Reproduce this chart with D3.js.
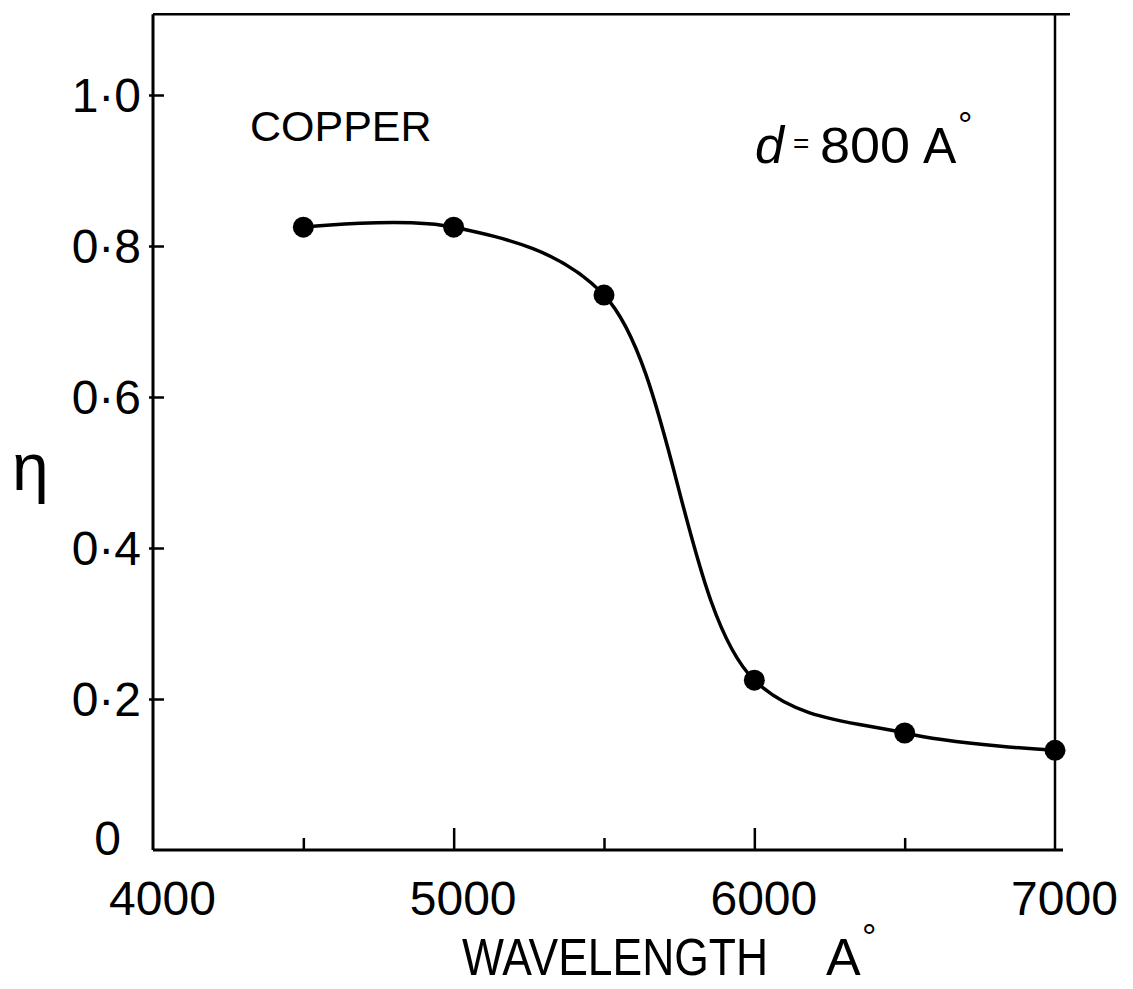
<!DOCTYPE html>
<html>
<head>
<meta charset="utf-8">
<script src="https://cdn.jsdelivr.net/npm/d3@7"></script>
<style>
  html, body { margin: 0; padding: 0; background: #fff; }
  svg { display: block; }
  text { fill: #000; font-family: "Liberation Sans", "DejaVu Sans", sans-serif; }
</style>
</head>
<body>
<svg id="chart" width="1133" height="989"></svg>
<script>
// Wavelength (Å) and efficiency η for the copper film
const wavelengths = [4500, 5000, 5500, 6000, 6500, 7000];
const eta = [0.825, 0.825, 0.735, 0.225, 0.155, 0.132];

const xTickValues = [4000, 4500, 5000, 5500, 6000, 6500, 7000];
const xTickLabels = ["4000", "", "5000", "", "6000", "", "7000"];
const yTickValues = [0, 0.2, 0.4, 0.6, 0.8, 1.0];
const yTickLabels = ["0", "0·2", "0·4", "0·6", "0·8", "1·0"];

const svg = d3.select("#chart");

const x = d3.scaleLinear().domain([4000, 7000]).range([153, 1055]);
const y = d3.scaleLinear().domain([0, 1.0]).range([850, 95]);
const yTop = 1.107;

// frame: top and right borders
svg.append("line")
  .attr("x1", x(4000)).attr("x2", x(7000) + 15)
  .attr("y1", y(yTop)).attr("y2", y(yTop))
  .attr("stroke", "#000").attr("stroke-width", 2.5);
svg.append("line")
  .attr("x1", x(7000)).attr("x2", x(7000))
  .attr("y1", y(yTop)).attr("y2", y(0))
  .attr("stroke", "#000").attr("stroke-width", 2.5);

// x axis
const xAxis = svg.append("g")
  .attr("transform", `translate(0,${y(0)})`)
  .call(d3.axisBottom(x).tickValues(xTickValues)
    .tickSize(0).tickFormat((d, i) => xTickLabels[i]));
xAxis.select(".domain").attr("stroke-width", 3).attr("d", `M${x(4000)},0H${x(7000) + 8}`);
xAxis.selectAll(".tick text").attr("font-size", 48).attr("dy", 0)
  .attr("y", 65).attr("dx", 9);
xAxis.selectAll(".tick").append("line")
  .attr("y1", 0)
  .attr("y2", d => (d % 1000 === 0 ? -22 : -12))
  .attr("stroke", "#000").attr("stroke-width", 2.5)
  .filter(d => d === 4000 || d === 7000).remove();

// y axis
const yAxis = svg.append("g")
  .attr("transform", `translate(${x(4000)},0)`)
  .call(d3.axisLeft(y).tickValues(yTickValues)
    .tickSize(0).tickFormat((d, i) => yTickLabels[i]));
yAxis.select(".domain").attr("stroke-width", 3).attr("d", `M0,${y(yTop)}V${y(0)}`);
yAxis.selectAll(".tick text").attr("font-size", 48).attr("x", -12)
  .attr("dy", d => (d === 0 ? "0.1em" : "0.35em"))
  .attr("dx", d => (d === 0 ? -20 : 0));
yAxis.selectAll(".tick").filter(d => d > 0).append("line")
  .attr("x1", -4).attr("x2", 11)
  .attr("stroke", "#000").attr("stroke-width", 2.5);

// smooth curve through the measured points
const pts = wavelengths.map((w, i) => [w, eta[i]]);
const line = d3.line()
  .x(d => x(d[0])).y(d => y(d[1]))
  .curve(d3.curveCatmullRom.alpha(0.5));
svg.append("path")
  .datum(pts)
  .attr("d", line)
  .attr("fill", "none")
  .attr("stroke", "#000")
  .attr("stroke-width", 3.5);

svg.selectAll("circle.pt")
  .data(pts)
  .enter().append("circle")
  .attr("class", "pt")
  .attr("cx", d => x(d[0]))
  .attr("cy", d => y(d[1]))
  .attr("r", 10.5)
  .attr("fill", "#000");

// annotations
svg.append("text")
  .attr("x", 250).attr("y", 141)
  .attr("font-size", 43)
  .text("COPPER");

const dLabel = svg.append("g");
dLabel.append("text").attr("x", 755).attr("y", 163).attr("font-size", 52)
  .attr("font-family", "Liberation Serif, serif").attr("font-style", "italic").text("d");
dLabel.append("text").attr("x", 793).attr("y", 153).attr("font-size", 28).text("=");
dLabel.append("text").attr("x", 820).attr("y", 163).attr("font-size", 50)
  .attr("textLength", 90).attr("lengthAdjust", "spacingAndGlyphs").text("800");
dLabel.append("text").attr("x", 923).attr("y", 163).attr("font-size", 50).text("A");
dLabel.append("text").attr("x", 958).attr("y", 138).attr("font-size", 36).text("°");

// axis titles
svg.append("text")
  .attr("x", 462).attr("y", 975)
  .attr("font-size", 52)
  .attr("textLength", 306).attr("lengthAdjust", "spacingAndGlyphs")
  .text("WAVELENGTH");
svg.append("text").attr("x", 826).attr("y", 975).attr("font-size", 52).text("A");
svg.append("text").attr("x", 862).attr("y", 950).attr("font-size", 36).text("°");

svg.append("text")
  .attr("x", 12).attr("y", 490)
  .attr("font-size", 66)
  .attr("font-family", "DejaVu Serif, serif")
  .text("η");
</script>
</body>
</html>
